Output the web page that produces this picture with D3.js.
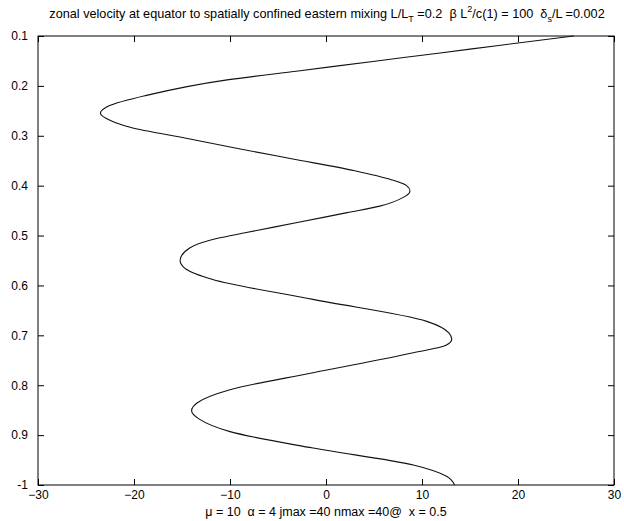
<!DOCTYPE html>
<html>
<head>
<meta charset="utf-8">
<script src="https://cdn.jsdelivr.net/npm/d3@7"></script>
<style>
  body { margin: 0; background: #fff; }
  svg { display: block; font-family: "Liberation Sans", Arial, sans-serif; }
  text { white-space: pre; }
</style>
</head>
<body>
<svg id="chart"></svg>
<script>
// zonal velocity (x) against position (y, downward)
const velocity = [25.8, 18.0, 11.9, 5.3, -2.9, -10.3, -18.7, -22.6, -23.5, -22.4, -20.4, -14.3, -9.6, -3.6,
  3.0, 6.8, 8.4, 8.75, 8.0, 5.6, 2.2, -3.0, -8.3, -11.4, -14.2, -15.2, -14.6, -11.8, -1.35, 10.5, 12.8, 13.1,
  12.5, 9.1, -1.35, -10, -13.4, -14, -13.2, -10, -1.35, 9.1, 12.6, 13.4];
const depth = [0.100, 0.119, 0.134, 0.150, 0.170, 0.188, 0.219, 0.240, 0.255, 0.270, 0.283, 0.306, 0.324, 0.346,
  0.370, 0.388, 0.400, 0.411, 0.424, 0.441, 0.454, 0.474, 0.494, 0.506, 0.525, 0.550, 0.567, 0.588, 0.628, 0.672, 0.695, 0.708,
  0.720, 0.735, 0.775, 0.809, 0.835, 0.851, 0.868, 0.893, 0.926, 0.960, 0.983, 1.000];

const xTicks = [-30, -20, -10, 0, 10, 20, 30];
const yTicks = [0.1, 0.2, 0.3, 0.4, 0.5, 0.6, 0.7, 0.8, 0.9, 1.0];
const yTickLabels = ["0.1", "0.2", "0.3", "0.4", "0.5", "0.6", "0.7", "0.8", "0.9", "-1"];

const width = 624, height = 521;
const margin = {top: 36, right: 10, bottom: 36, left: 38};

const svg = d3.select('#chart').attr('width', width).attr('height', height);

const x = d3.scaleLinear().domain([-30, 30]).range([margin.left, width - margin.right]);
const y = d3.scaleLinear().domain([0.1, 1.0]).range([margin.top, height - margin.bottom]);

// axes: inward ticks on all four sides
svg.append('g')
  .attr('transform', `translate(0,${y.range()[1]})`)
  .call(d3.axisBottom(x).tickValues(xTicks).tickSizeInner(-6).tickSizeOuter(0).tickPadding(5))
  .call(g => g.select('.domain').remove());
svg.append('g')
  .attr('transform', `translate(0,${y.range()[0]})`)
  .call(d3.axisTop(x).tickValues(xTicks).tickSizeInner(-6).tickSizeOuter(0).tickFormat(''))
  .call(g => g.select('.domain').remove());
svg.append('g')
  .attr('transform', `translate(${x.range()[0]},0)`)
  .call(d3.axisLeft(y).tickValues(yTicks).tickSizeInner(-6).tickSizeOuter(0).tickPadding(10)
    .tickFormat((d, i) => yTickLabels[i]))
  .call(g => g.select('.domain').remove());
svg.append('g')
  .attr('transform', `translate(${x.range()[1]},0)`)
  .call(d3.axisRight(y).tickValues(yTicks).tickSizeInner(-6).tickSizeOuter(0).tickFormat(''))
  .call(g => g.select('.domain').remove());

svg.selectAll('.tick text').attr('font-size', 12).attr('font-family', '"Liberation Sans", Arial, sans-serif').attr('fill', '#000');
svg.selectAll('.tick line').attr('stroke', '#000');

// frame
svg.append('rect')
  .attr('x', x.range()[0]).attr('y', y.range()[0])
  .attr('width', x.range()[1] - x.range()[0])
  .attr('height', y.range()[1] - y.range()[0])
  .attr('fill', 'none').attr('stroke', '#000');

// curve (depth is monotonic, so interpolate x as a function of y)
const line = d3.line()
  .x(i => x(velocity[i]))
  .y(i => y(depth[i]))
  .curve(d3.curveMonotoneY);
svg.append('path')
  .attr('d', line(d3.range(velocity.length)))
  .attr('fill', 'none').attr('stroke', '#111').attr('stroke-width', 1.1);

// title
const title = svg.append('text')
  .attr('x', 327).attr('y', 18)
  .attr('text-anchor', 'middle').attr('font-size', 12.7);
title.append('tspan').text('zonal velocity at equator to spatially confined eastern mixing L/L');
title.append('tspan').attr('font-size', 9).attr('dy', 4).text('T');
title.append('tspan').attr('dy', -4).text(' =0.2  \u03B2 L');
title.append('tspan').attr('font-size', 9).attr('dy', -6).text('2');
title.append('tspan').attr('dy', 6).text('/c(1) = 100  \u03B4');
title.append('tspan').attr('font-size', 9).attr('dy', 4).text('s');
title.append('tspan').attr('dy', -4).text('/L =0.002');

// bottom caption
svg.append('text')
  .attr('x', 326).attr('y', 516)
  .attr('text-anchor', 'middle').attr('font-size', 12.5)
  .text('\u03BC = 10  \u03B1 = 4 jmax =40 nmax =40@  x = 0.5');
</script>
</body>
</html>
